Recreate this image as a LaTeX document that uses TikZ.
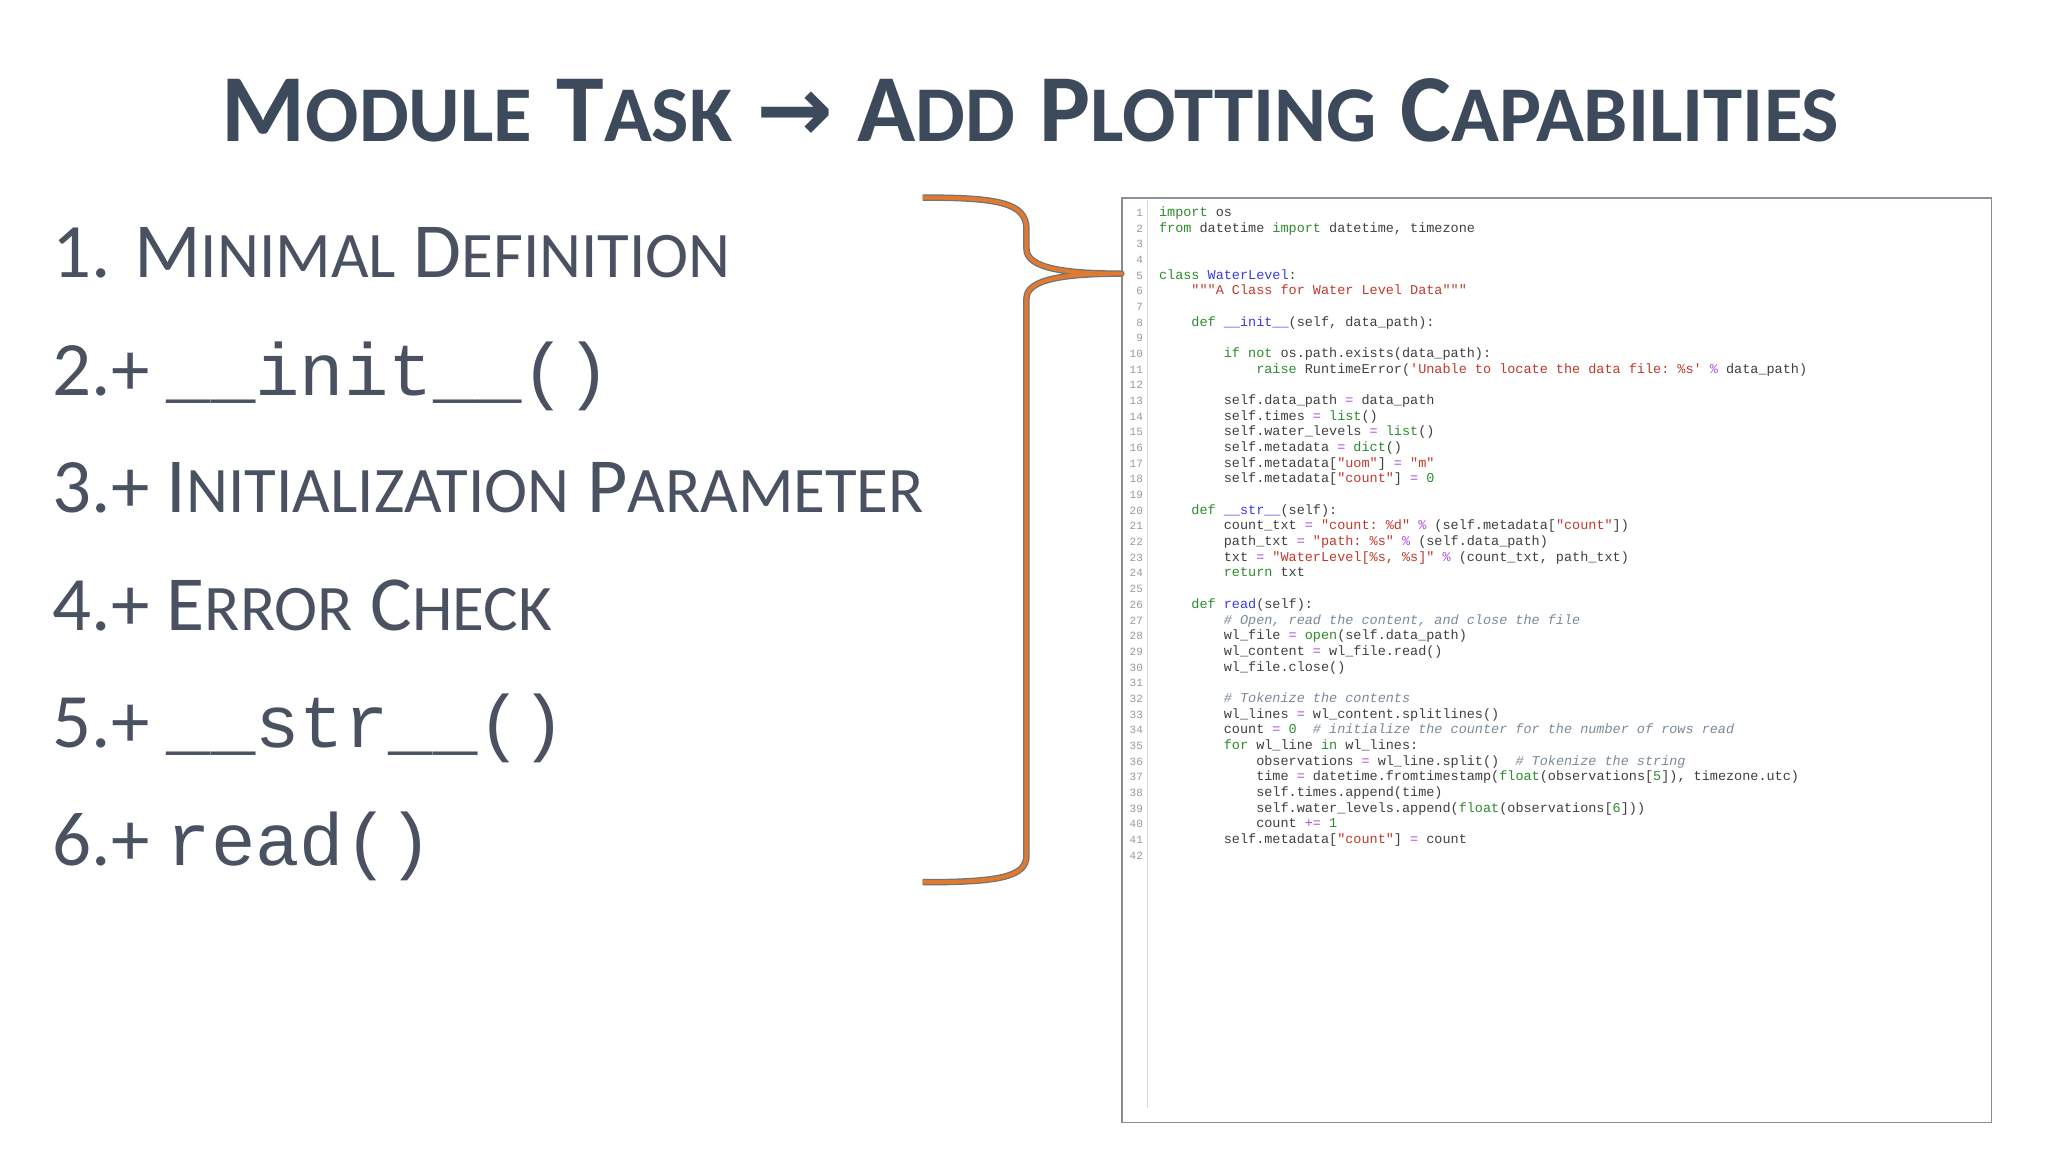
\documentclass[tikz,border=0pt]{standalone}
\usepackage{fontspec}
\setmainfont{Carlito}
\setmonofont{Liberation Mono}
\newfontfamily\djv{DejaVu Sans}
\definecolor{ttl}{HTML}{3D4A5C}
\definecolor{itm}{HTML}{4A5262}
\definecolor{kwc}{HTML}{2E8B2E}
\definecolor{stc}{HTML}{C0392B}
\definecolor{nmc}{HTML}{3A3AE0}
\definecolor{opc}{HTML}{B050E0}
\definecolor{cmc}{HTML}{7A8A9A}
\definecolor{brc}{HTML}{E07A30}
\newcommand{\kw}[1]{\textcolor{kwc}{#1}}
\newcommand{\st}[1]{\textcolor{stc}{#1}}
\newcommand{\nm}[1]{\textcolor{nmc}{#1}}
\newcommand{\op}[1]{\textcolor{opc}{#1}}
\newcommand{\bi}[1]{\textcolor{kwc}{#1}}
\newcommand{\nuu}[1]{\textcolor{kwc}{#1}}
\newcommand{\cm}[1]{\textcolor{cmc}{\itshape #1}}
\newcommand{\TS}[2]{{\fontsize{96}{96}\selectfont #1}{\fontsize{79}{79}\selectfont #2}}
\newcommand{\TSP}{\hspace{24pt}}
\newcommand{\LS}[2]{{\fontsize{78}{78}\selectfont #1}{\fontsize{65}{65}\selectfont #2}}
\begin{document}
\begin{tikzpicture}[x=0.988pt,y=-0.988pt,
  item/.style={anchor=base west,inner sep=0pt,text=itm,font=\fontsize{77}{77}\selectfont},
  code/.style={anchor=base west,inner sep=0pt,font=\ttfamily\fontsize{13.5}{14}\selectfont,text=black!75},
  lnum/.style={anchor=base east,inner sep=0pt,font=\ttfamily\fontsize{11}{12}\selectfont,text=black!40}]
\useasboundingbox (0,0) rectangle (2073,1166);
\fill[white] (0,0) rectangle (2073,1166);
% title
\node[anchor=base,inner sep=0pt,text=ttl,font=\bfseries] (title) at (1043,143)
  {\TS{M}{ODULE}\TSP\TS{T}{ASK}\TSP{\djv\bfseries\fontsize{92}{92}\selectfont →}\TSP\TS{A}{DD}\TSP\TS{P}{LOTTING}\TSP\TS{C}{APABILITIES}};
% items
\node[item] (i1) at (53,281) {1. \LS{M}{INIMAL} \LS{D}{EFINITION}};
\node[item] (i2) at (53,400) {2.+ {\ttfamily\fontsize{74}{74}\selectfont\_\_init\_\_()}};
\node[item] (i3) at (53,519) {3.+ \LS{I}{NITIALIZATION} \LS{P}{ARAMETER}};
\node[item] (i4) at (53,638) {4.+ \LS{E}{RROR} \LS{C}{HECK}};
\node[item] (i5) at (53,757) {5.+ {\ttfamily\fontsize{74}{74}\selectfont\_\_str\_\_()}};
\node[item] (i6) at (53,876) {6.+ {\ttfamily\fontsize{74}{74}\selectfont read()}};
% code box
\fill[black!30] (1140,205) rectangle (2011,1130);
\node[draw=black!45,line width=1.2pt,fill=white,minimum width=870,minimum height=924,inner sep=0pt,anchor=north west] (box) at (1135,200) {};
\draw[line width=2pt,color=ttl!60] (box.north west) -- (box.north east);
\draw[black!15,line width=1pt] (1162,202) -- (1162,1122);
\foreach \i in {1,...,42} { \node[lnum] (ln\i) at (1157,{219+(\i-1)*15.87}) {\i}; }
\newcommand{\cl}[3]{\node[code] (c#1) at ({1173+#2*8.2},{219+(#1-1)*15.87}) {#3};}
\cl{1}{0}{\kw{import} os}
\cl{2}{0}{\kw{from} datetime \kw{import} datetime, timezone}
\cl{5}{0}{\kw{class} \nm{WaterLevel}:}
\cl{6}{4}{\st{"""A Class for Water Level Data"""}}
\cl{8}{4}{\kw{def} \nm{\_\_init\_\_}(self, data\_path):}
\cl{10}{8}{\kw{if} \kw{not} os.path.exists(data\_path):}
\cl{11}{12}{\kw{raise} RuntimeError(\st{'Unable to locate the data file: \%s'} \op{\%} data\_path)}
\cl{13}{8}{self.data\_path \op{=} data\_path}
\cl{14}{8}{self.times \op{=} \bi{list}()}
\cl{15}{8}{self.water\_levels \op{=} \bi{list}()}
\cl{16}{8}{self.metadata \op{=} \bi{dict}()}
\cl{17}{8}{self.metadata[\st{"uom"}] \op{=} \st{"m"}}
\cl{18}{8}{self.metadata[\st{"count"}] \op{=} \nuu{0}}
\cl{20}{4}{\kw{def} \nm{\_\_str\_\_}(self):}
\cl{21}{8}{count\_txt \op{=} \st{"count: \%d"} \op{\%} (self.metadata[\st{"count"}])}
\cl{22}{8}{path\_txt \op{=} \st{"path: \%s"} \op{\%} (self.data\_path)}
\cl{23}{8}{txt \op{=} \st{"WaterLevel[\%s, \%s]"} \op{\%} (count\_txt, path\_txt)}
\cl{24}{8}{\kw{return} txt}
\cl{26}{4}{\kw{def} \nm{read}(self):}
\cl{27}{8}{\cm{\# Open, read the content, and close the file}}
\cl{28}{8}{wl\_file \op{=} \bi{open}(self.data\_path)}
\cl{29}{8}{wl\_content \op{=} wl\_file.read()}
\cl{30}{8}{wl\_file.close()}
\cl{32}{8}{\cm{\# Tokenize the contents}}
\cl{33}{8}{wl\_lines \op{=} wl\_content.splitlines()}
\cl{34}{8}{count \op{=} \nuu{0}\ \ \cm{\# initialize the counter for the number of rows read}}
\cl{35}{8}{\kw{for} wl\_line \kw{in} wl\_lines:}
\cl{36}{12}{observations \op{=} wl\_line.split()\ \ \cm{\# Tokenize the string}}
\cl{37}{12}{time \op{=} datetime.fromtimestamp(\bi{float}(observations[\nuu{5}]), timezone.utc)}
\cl{38}{12}{self.times.append(time)}
\cl{39}{12}{self.water\_levels.append(\bi{float}(observations[\nuu{6}]))}
\cl{40}{12}{count \op{+=} \nuu{1}}
\cl{41}{8}{self.metadata[\st{"count"}] \op{=} count}
% brace
\coordinate (btop) at (934,200);
\coordinate (bbot) at (934,893);
\coordinate (tip) at (box.west |- 0,277);
\foreach \w/\c in {6.5pt/black!55,4pt/brc}{
\draw[line width=\w,color=\c,line join=round]
  (btop) .. controls (1010,200) and (1039,205) .. (1039,232)
  -- (1039,252) .. controls (1039,272) and (1080,277) .. (tip)
  .. controls (1080,277) and (1039,282) .. (1039,302)
  -- (1039,866) .. controls (1039,888) and (1010,893) .. (bbot);}
\end{tikzpicture}
\end{document}
